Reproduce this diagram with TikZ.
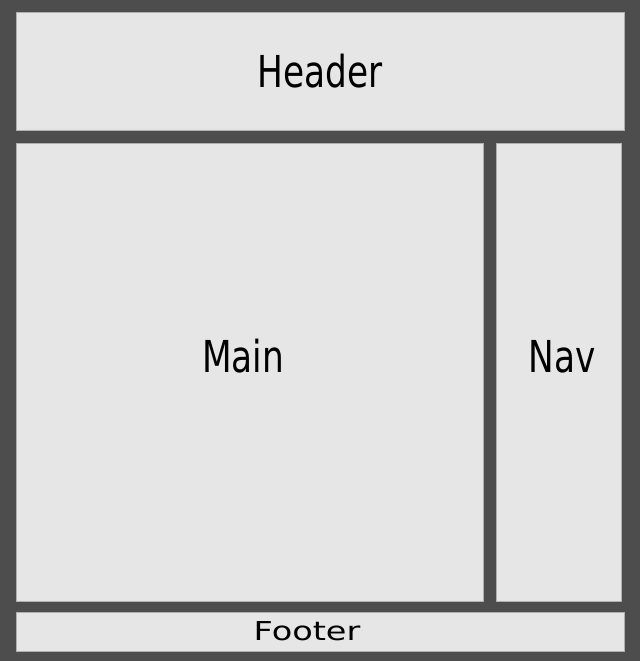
\documentclass[tikz,border=0pt]{standalone}
\usepackage{fontspec}
\setmainfont{DejaVu Sans}
\definecolor{bgdark}{HTML}{4D4D4D}
\definecolor{boxfill}{HTML}{E6E6E6}
\definecolor{boxedge}{HTML}{B0B0B0}
\begin{document}
\begin{tikzpicture}[x=1pt,y=-1pt,
  region/.style={fill=boxfill,draw=boxedge,line width=0.8pt},
  bigtext/.style={anchor=base,inner sep=0pt,font=\fontsize{44}{44}\selectfont},
  smalltext/.style={anchor=base,inner sep=0pt,font=\fontsize{26}{26}\selectfont}]
\fill[bgdark] (0,0) rectangle (640,661);
\useasboundingbox (0,0) rectangle (640,661);
\draw[region] (16,12) rectangle (624,130);
\draw[region] (16,143) rectangle (483,601);
\draw[region] (496,143) rectangle (621,601);
\draw[region] (16,612) rectangle (624,651);
\node[bigtext] (header) at (320,88) {\scalebox{0.78}[1]{Header}};
\node[bigtext] (main) at (243,372) {\scalebox{0.78}[1]{Main}};
\node[bigtext] (nav) at (562,372) {\scalebox{0.78}[1]{Nav}};
\node[smalltext] (footer) at (307,640) {\scalebox{1.29}[1]{Footer}};
\end{tikzpicture}
\end{document}
